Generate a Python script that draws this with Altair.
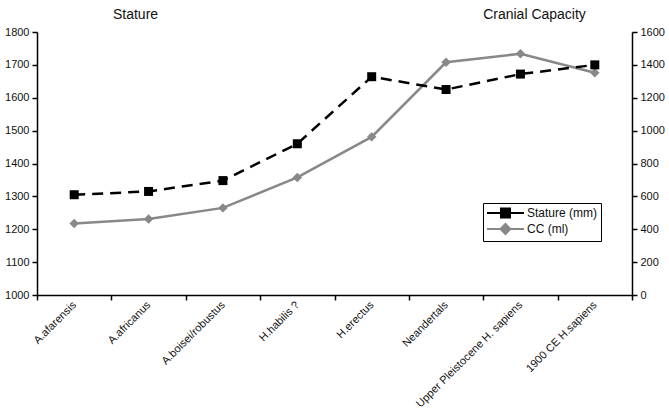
import altair as alt
import pandas as pd

categories = ["A.afarensis", "A.africanus", "A.boisei/robustus", "H.habilis ?",
              "H.erectus", "Neandertals", "Upper Pleistocene H. sapiens", "1900 CE H.sapiens"]
stature = [1305, 1315, 1348, 1460, 1664, 1625, 1672, 1700]
cc = [435, 462, 530, 715, 962, 1416, 1468, 1352]
series_names = ["Stature (mm)", "CC (ml)"]
colors = ["#000000", "#888888"]
# legend glyphs: a line with the marker in its middle (unit = 6 px)
legend_shapes = ["M-1,0H5.17M1.33,-0.75H2.83V0.75H1.33Z",
                 "M-1,0H5.17M2.08,-0.83L2.91,0L2.08,0.83L1.25,0Z"]

df_st = pd.DataFrame({"species": categories, "value": stature, "series": series_names[0]})
df_cc = pd.DataFrame({"species": categories, "value": cc, "series": series_names[1]})

FONT = "Liberation Sans"

x_enc = alt.X("species:N", sort=categories,
              scale=alt.Scale(paddingInner=0, paddingOuter=0),
              axis=alt.Axis(title=None, labelAngle=-45, labelAlign="right", labelBaseline="middle",
                            tickBand="extent", tickSize=5, labelPadding=3, labelFontSize=11))

leg = alt.Legend(title=None, orient="none", legendX=446, legendY=171,
                 fillColor="white",
                 padding=3, symbolSize=144, symbolStrokeWidth=2, symbolOpacity=1,
                 labelFontSize=12, labelFont=FONT, labelColor="#111",
                 labelOffset=27, rowPadding=-4)

y_left = alt.Y("value:Q", scale=alt.Scale(domain=[1000, 1800], nice=False, zero=False),
               axis=alt.Axis(values=list(range(1000, 1801, 100)), format="d", tickSize=5,
                             labelPadding=3,
                             title="Stature", titleAngle=0, titleX=98, titleY=-18,
                             titleAlign="center", titleBaseline="middle",
                             titleFontSize=14, titleFontWeight="normal", titleFont=FONT))
y_right = alt.Y("value:Q", scale=alt.Scale(domain=[0, 1600], nice=False),
                axis=alt.Axis(orient="right", values=list(range(0, 1601, 200)), format="d",
                              tickSize=5, labelPadding=3,
                              title="Cranial Capacity", titleAngle=0, titleX=-98, titleY=-18,
                              titleAlign="center", titleBaseline="middle",
                              titleFontSize=14, titleFontWeight="normal", titleFont=FONT))

st_line = alt.Chart(df_st).mark_line(color="black", strokeWidth=2.5, strokeDash=[11, 7]).encode(
    x=x_enc, y=y_left)
st_pt = alt.Chart(df_st).mark_point(shape="square", filled=True, size=81, opacity=1,
                                    color="black").encode(x=x_enc, y=y_left)
legend_layer = alt.Chart(df_st).transform_filter("false").mark_point(
    filled=True, strokeWidth=2).encode(
    x=x_enc, y=y_left,
    fill=alt.Fill("series:N", scale=alt.Scale(domain=series_names, range=colors), legend=leg),
    stroke=alt.Stroke("series:N", scale=alt.Scale(domain=series_names, range=colors), legend=leg),
    shape=alt.Shape("series:N", scale=alt.Scale(domain=series_names, range=legend_shapes), legend=leg))
cc_line = alt.Chart(df_cc).mark_line(color="#888888", strokeWidth=2.5).encode(x=x_enc, y=y_right)
cc_pt = alt.Chart(df_cc).mark_point(shape="diamond", filled=True, size=90, opacity=1,
                                    color="#888888").encode(x=x_enc, y=y_right)

left = alt.layer(st_line, st_pt, legend_layer)
right = alt.layer(cc_line, cc_pt)

chart = alt.layer(right, left).resolve_scale(y="independent").properties(
    width=595, height=263,
    autosize=alt.AutoSizeParams(type="none"),
    padding={"left": 37, "top": 32, "right": 37, "bottom": 122},
    background="white"
).configure_view(stroke=None).configure_axis(
    grid=False, domainColor="black", domainWidth=1.5, tickColor="black", tickWidth=1.5,
    labelColor="#111", labelFont=FONT, labelFontSize=11, titleColor="#111"
).configure_legend(strokeColor="black", strokeWidth=1)

chart.save("out.html", embed_options={"renderer": "svg", "actions": False})
